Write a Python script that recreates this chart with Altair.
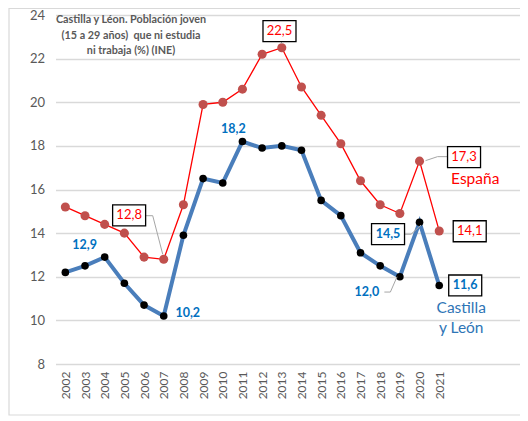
import altair as alt
import pandas as pd

years = list(range(2002, 2022))
espana = [15.2, 14.8, 14.4, 14.0, 12.9, 12.8, 15.3, 19.9, 20.0, 20.6,
          22.2, 22.5, 20.7, 19.4, 18.1, 16.4, 15.3, 14.9, 17.3, 14.1]
cyl = [12.2, 12.5, 12.9, 11.7, 10.7, 10.2, 13.9, 16.5, 16.3, 18.2,
       17.9, 18.0, 17.8, 15.5, 14.8, 13.1, 12.5, 12.0, 14.5, 11.6]
y_ticks = [8, 10, 12, 14, 16, 18, 20, 22, 24]
title_lines = ["Castilla y Léon. Población joven",
               "(15 a 29 años)\u00a0 que ni estudia",
               "ni trabaja (%) (INE)"]

FONT = "Lato"
RED = "#ff0000"
BLUE = "#0070c0"
GRAY = "#595959"

W, H = 464, 349
xs = alt.Scale(domain=[2001.5, 2025.08], nice=False, zero=False)
ys = alt.Scale(domain=[8, 24], nice=False, zero=False)


def fmt(v):
    return f"{v:.1f}".replace(".", ",")


df_es = pd.DataFrame({"year": years, "value": espana})
df_cl = pd.DataFrame({"year": years, "value": cyl})

X = alt.X("year:Q", scale=xs,
          axis=alt.Axis(values=years, format="d", labelAngle=-90, labelAlign="right",
                        labelBaseline="middle", labelPadding=7, labelFontSize=12,
                        labelColor=GRAY, labelFont=FONT, labelOverlap=False,
                        labelFlush=False, labelBound=False,
                        grid=False, ticks=False, domain=False, title=None))
Y = alt.Y("value:Q", scale=ys,
          axis=alt.Axis(values=y_ticks, labelFontSize=13, labelColor=GRAY, labelFont=FONT,
                        labelPadding=11, grid=True, gridColor="#d9d9d9", gridWidth=1.3,
                        ticks=False, domain=False, title=None))

# outer frame (decoration)
frame = alt.Chart(pd.DataFrame({"a": [0]})).mark_rect(
    fill=None, stroke="#d9d9d9", strokeWidth=1.2, clip=False
).encode(x=alt.value(-46.5), x2=alt.value(480), y=alt.value(-6.5), y2=alt.value(400))

cl_line = alt.Chart(df_cl).mark_line(color="#4a7ebb", strokeWidth=4).encode(x=X, y=Y)
cl_pts = alt.Chart(df_cl).mark_point(filled=True, color="black", size=58, opacity=1).encode(x=X, y=Y)
es_line = alt.Chart(df_es).mark_line(color=RED, strokeWidth=1.3).encode(x=X, y=Y)
es_pts = alt.Chart(df_es).mark_point(filled=True, color="#c0504d", size=82, opacity=1).encode(x=X, y=Y)

BOX = "M-1,-0.636L1,-0.636L1,0.636L-1,0.636Z"

layers = [frame, cl_line, es_line, es_pts, cl_pts]


def anchor_df(series, i, text=None):
    vals = espana if series == "es" else cyl
    return pd.DataFrame({"year": [years[i]], "value": [vals[i]],
                         "label": [text if text is not None else fmt(vals[i])]})


def label(series, year, dx, dy, color, bold=False, size=12.5, boxed=False,
          leaders=(), text=None):
    i = years.index(year)
    d = anchor_df(series, i, text)
    base = alt.Chart(d)
    out = []
    for (x1, y1, x2, y2) in leaders:
        out.append(base.mark_rule(color="#a6a6a6", strokeWidth=1,
                                  xOffset=x1, yOffset=y1, x2Offset=x2, y2Offset=y2)
                   .encode(x=X, x2="year:Q", y=Y, y2="value:Q"))
    if boxed:
        out.append(base.mark_point(shape=BOX, size=1089, filled=True, fill="white",
                                   stroke="black", strokeWidth=1.3, opacity=1,
                                   xOffset=dx, yOffset=dy)
                   .encode(x=X, y=Y))
    out.append(base.mark_text(font=FONT, fontSize=size, color=color,
                              fontWeight="bold" if bold else "normal",
                              align="center", baseline="middle", dx=dx, dy=dy)
               .encode(x=X, y=Y, text="label:N"))
    return out


# España labels
layers += label("es", 2007, -34.6, -44, RED, size=13, boxed=True,
                leaders=[(-1, -5, -11, -43.6), (-11, -43.6, -18, -43.6)])
layers += label("es", 2013, -2.3, -16.5, RED, size=13, boxed=True,
                leaders=[(-0.5, -6, 0, -4)])
layers += label("es", 2020, 44.5, -4, RED, size=13, boxed=True,
                leaders=[(6, -0.5, 18, -4.5), (18, -4.5, 28, -4.5)])
layers += label("es", 2021, 30.5, 0.3, RED, size=13, boxed=True)
layers += label("es", 2021, 36, -51.5, RED, size=15.5, text="España")

# Castilla y León labels
layers += label("cl", 2004, -20, -12, BLUE, bold=True)
layers += label("cl", 2007, 24, -3, BLUE, bold=True)
layers += label("cl", 2011, -9, -13, BLUE, bold=True)
layers += label("cl", 2020, -31.5, 12, BLUE, bold=True, boxed=True,
                leaders=[(-15, 12, -8.5, 12), (-8.5, 12, 1.5, 2.8)])
layers += label("cl", 2019, -33, 15.3, BLUE, bold=True,
                leaders=[(-15.5, 15.3, -9.5, 15.3), (-9.5, 15.3, -2.8, 0)])
layers += label("cl", 2021, 26, 0, BLUE, bold=True, boxed=True)
layers += label("cl", 2021, 22, 23, "#2e75b6", size=15.5, text="Castilla")
layers += label("cl", 2021, 22, 43, "#2e75b6", size=15.5, text="y León")

title = alt.Chart(pd.DataFrame({"t": ["\n".join(title_lines)]})).mark_text(
    font=FONT, fontSize=10.8, fontWeight="bold", color=GRAY, align="center",
    baseline="top", lineBreak="\n", lineHeight=15.5
).encode(x=alt.value(75.5), y=alt.value(-1), text="t:N")
layers.append(title)

chart = alt.layer(*layers).properties(
    width=W, height=H,
    autosize=alt.AutoSizeParams(type="none"),
    padding={"left": 47.5, "top": 7, "right": 0, "bottom": 52},
).configure_view(stroke=None)

chart.save("out.html", embed_options={"renderer": "svg", "actions": False})
